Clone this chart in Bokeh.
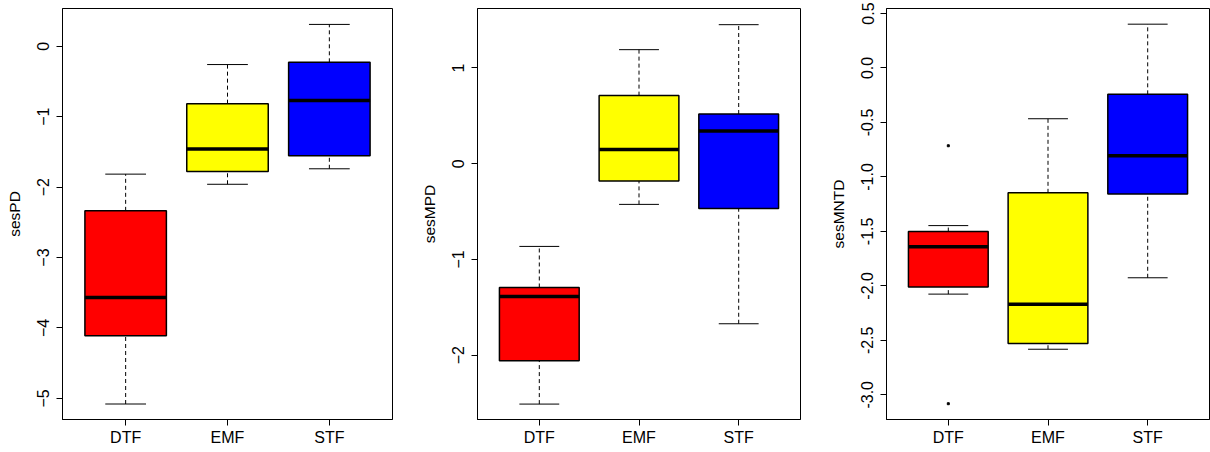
from bokeh.plotting import figure
from bokeh.layouts import row
from bokeh.models import FixedTicker, PrintfTickFormatter, Range1d
from bokeh.embed import file_html
from bokeh.resources import INLINE

categories = ["DTF", "EMF", "STF"]
colors = ["#FF0000", "#FFFF00", "#0000FF"]

# sesPD
pd_low = [-5.08, -1.96, -1.74]
pd_q1 = [-4.11, -1.78, -1.555]
pd_med = [-3.566, -1.46, -0.77]
pd_q3 = [-2.337, -0.815, -0.228]
pd_high = [-1.816, -0.26, 0.31]

# sesMPD
mpd_low = [-2.511, -0.425, -1.672]
mpd_q1 = [-2.058, -0.181, -0.467]
mpd_med = [-1.387, 0.149, 0.342]
mpd_q3 = [-1.293, 0.711, 0.519]
mpd_high = [-0.864, 1.191, 1.452]

# sesMNTD
mntd_low = [-2.076, -2.582, -1.926]
mntd_q1 = [-2.011, -2.53, -1.156]
mntd_med = [-1.640, -2.168, -0.806]
mntd_q3 = [-1.502, -1.146, -0.242]
mntd_high = [-1.447, -0.466, 0.402]
mntd_out_x = [1, 1]
mntd_out_y = [-0.714, -3.082]

FONT = "Liberation Sans"


def make_panel(ylabel, low, q1, med, q3, high, yr, ticks, width, bl, br,
               fmt=None, out_x=None, out_y=None):
    p = figure(width=width, height=452, output_backend="svg", toolbar_location=None,
               x_range=Range1d(0.38, 3.62), y_range=Range1d(*yr),
               min_border_left=bl, min_border_right=br, min_border_top=8,
               min_border_bottom=33)
    p.background_fill_color = "white"
    p.border_fill_color = "white"
    p.outline_line_color = "black"
    p.outline_line_width = 1
    p.xgrid.visible = False
    p.ygrid.visible = False
    xs = [1, 2, 3]
    hw = 0.4
    cw = 0.2
    # whiskers dashed
    p.segment(x0=xs, y0=q3, x1=xs, y1=high, line_color="black", line_width=1, line_dash="4 3")
    p.segment(x0=xs, y0=low, x1=xs, y1=q1, line_color="black", line_width=1, line_dash="4 3")
    # staples
    p.segment(x0=[x - cw for x in xs], y0=high, x1=[x + cw for x in xs], y1=high,
              line_color="black", line_width=1)
    p.segment(x0=[x - cw for x in xs], y0=low, x1=[x + cw for x in xs], y1=low,
              line_color="black", line_width=1)
    # boxes
    p.quad(left=[x - hw for x in xs], right=[x + hw for x in xs], bottom=q1, top=q3,
           fill_color=colors, line_color="black", line_width=1.5)
    # medians
    p.segment(x0=[x - hw for x in xs], y0=med, x1=[x + hw for x in xs], y1=med,
              line_color="black", line_width=3.5)
    if out_x is not None:
        p.scatter(x=out_x, y=out_y, marker="square", size=2, fill_color="black",
                  line_color="black")

    p.xaxis.ticker = FixedTicker(ticks=[1, 2, 3])
    p.xaxis.major_label_overrides = {1: categories[0], 2: categories[1], 3: categories[2]}
    p.yaxis.ticker = FixedTicker(ticks=ticks)
    if fmt:
        p.yaxis.formatter = PrintfTickFormatter(format=fmt)
    p.yaxis.axis_label = ylabel
    for ax in (p.xaxis, p.yaxis):
        ax.axis_line_color = "black"
        ax.major_tick_line_color = "black"
        ax.minor_tick_line_color = None
        ax.major_tick_out = 6
        ax.major_tick_in = 0
        ax.major_label_text_font = FONT
        ax.major_label_text_font_size = "16px"
        ax.major_label_text_color = "black"
        ax.axis_label_text_font = FONT
        ax.axis_label_text_font_size = "15.5px"
        ax.axis_label_text_font_style = "normal"
        ax.axis_label_text_color = "black"
    p.xaxis.major_label_standoff = 3
    p.yaxis.major_label_orientation = "vertical"
    p.yaxis.major_label_standoff = 7
    p.yaxis.axis_label_standoff = 12
    return p


p1 = make_panel("sesPD", pd_low, pd_q1, pd_med, pd_q3, pd_high, (-5.30, 0.536),
                [-5, -4, -3, -2, -1, 0], 417, 62, 25)
p2 = make_panel("sesMPD", mpd_low, mpd_q1, mpd_med, mpd_q3, mpd_high, (-2.672, 1.621),
                [-2, -1, 0, 1], 409, 54, 26)
p3 = make_panel("sesMNTD", mntd_low, mntd_q1, mntd_med, mntd_q3, mntd_high, (-3.227, 0.546),
                [-3.0, -2.5, -2.0, -1.5, -1.0, -0.5, 0.0, 0.5], 384, 54, 1,
                fmt="%.1f", out_x=mntd_out_x, out_y=mntd_out_y)

layout = row(p1, p2, p3)
open("out.html", "w").write(file_html(layout, INLINE))
